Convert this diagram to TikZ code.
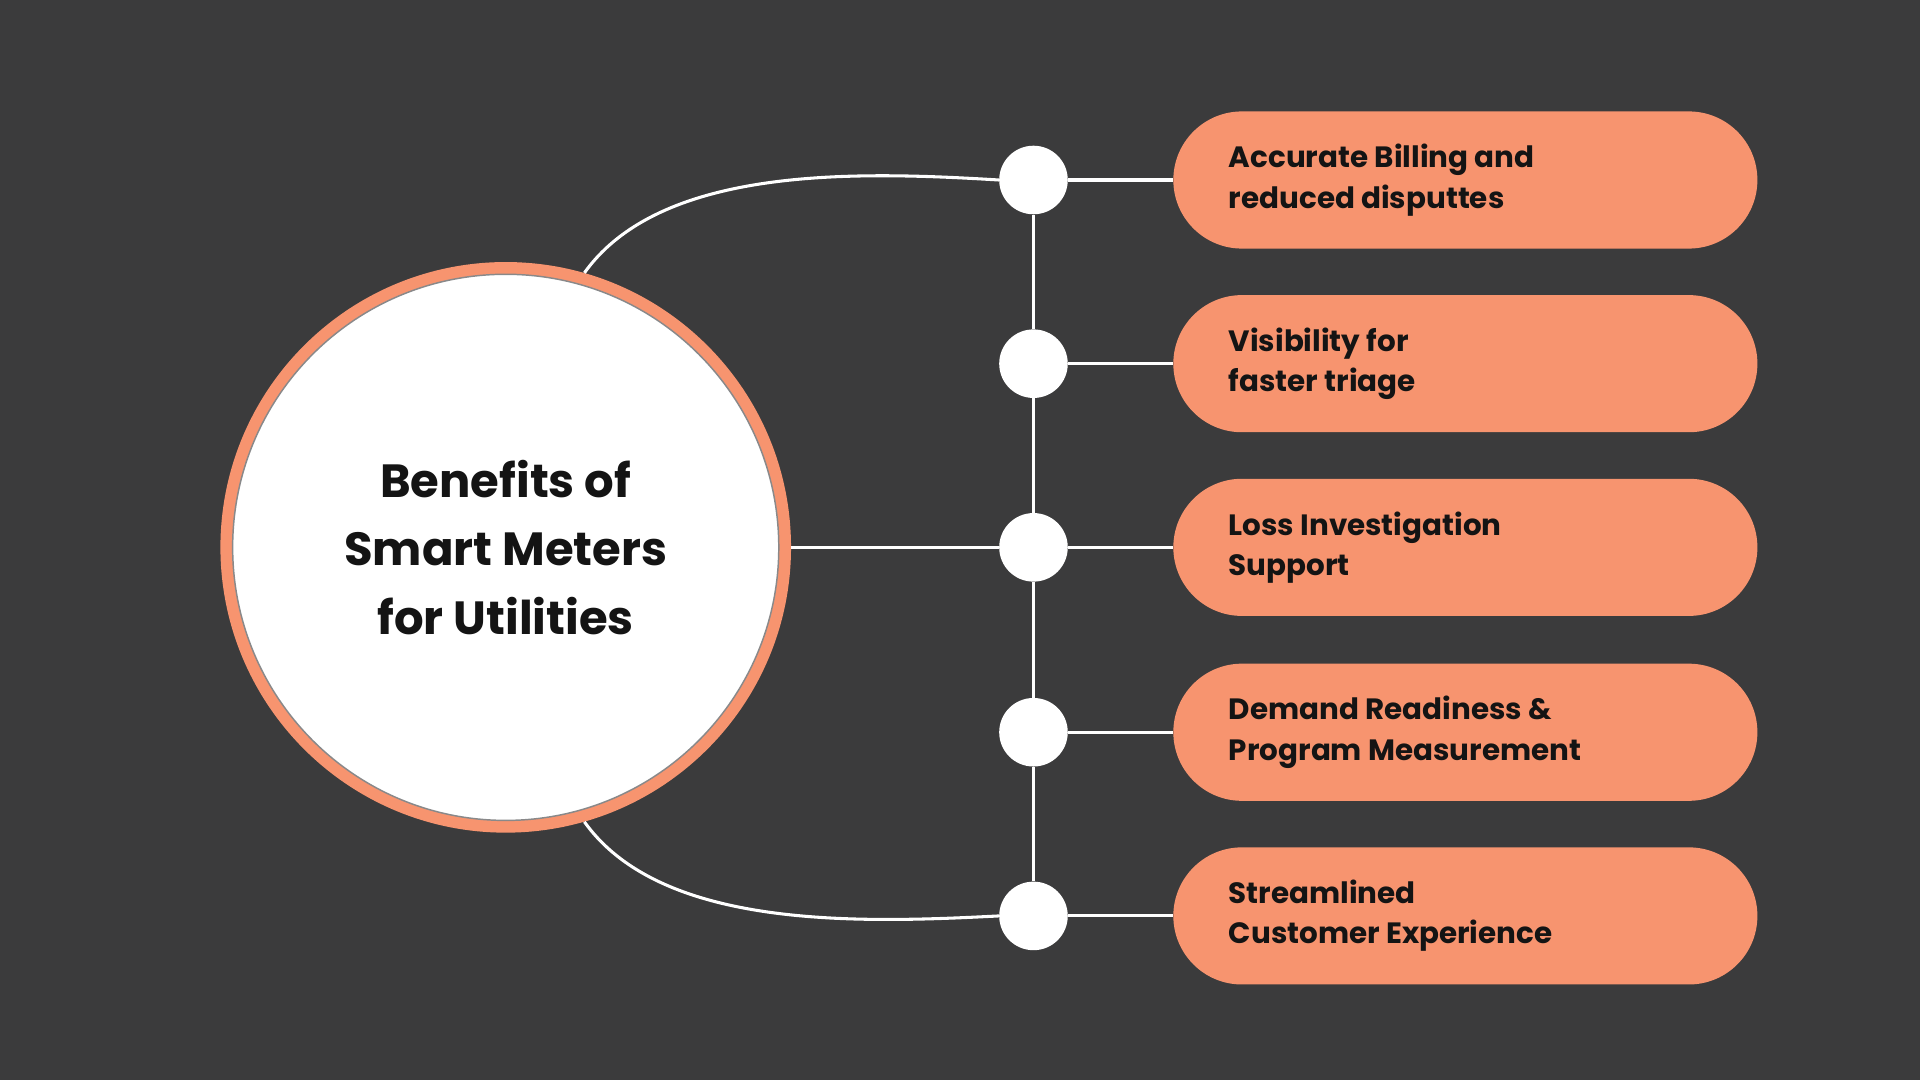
\documentclass[tikz,border=0pt]{standalone}
\usepackage{fontspec}
\setmainfont{Poppins}
\definecolor{bg}{HTML}{3B3B3C}
\definecolor{peach}{HTML}{F7946F}
\definecolor{ink}{HTML}{141414}
\begin{document}
\begin{tikzpicture}[x=1pt,y=-1pt,
  dot/.style={circle,fill=white,minimum size=56pt,inner sep=0pt},
  pill/.style={rounded corners=56pt,fill=peach,minimum width=477pt,minimum height=112pt,inner sep=0pt},
  ptext/.style={text=ink,font=\fontsize{24}{33}\selectfont\bfseries,align=left,anchor=west},
  wire/.style={white,line width=2.5pt}]
\fill[bg] (0,0) rectangle (1568,882);
\useasboundingbox (0,0) rectangle (1568,882);
% circle
\node (c) [circle,fill=peach,minimum size=466pt,inner sep=0pt] at (413,447) {};
\node (ci) [circle,fill=white,draw=bg!60,line width=1.2pt,minimum size=446pt,inner sep=0pt,align=center,text=ink,font=\fontsize{38}{56}\selectfont\bfseries] at (413,447) {Benefits of\\Smart Meters\\for Utilities};
% dots and pills
\foreach \i/\y/\t in {1/147/{Accurate Billing and\\reduced disputtes},2/297/{Visibility for\\faster triage},3/447/{Loss Investigation\\Support},4/598/{Demand Readiness \&\\Program Measurement},5/748/{Streamlined\\Customer Experience}}{
  \node (p\i) [pill,anchor=west] at (958,\y) {};
  \node (t\i) [ptext] at (1000,\y) {\t};
  \node (d\i) [dot] at (844,\y) {};
}
\foreach \i in {1,...,5}{\draw[wire] (d\i) -- (p\i.west);}
\foreach \i/\j in {1/2,2/3,3/4,4/5}{\draw[wire] (d\i) -- (d\j);}
\draw[wire] (c.east) -- (d3);
\draw[wire] (c.74) .. controls (540,135) and (700,140) .. (d1.west);
\draw[wire] (c.-74) .. controls (540,759) and (700,754) .. (d5.west);
\end{tikzpicture}
\end{document}
